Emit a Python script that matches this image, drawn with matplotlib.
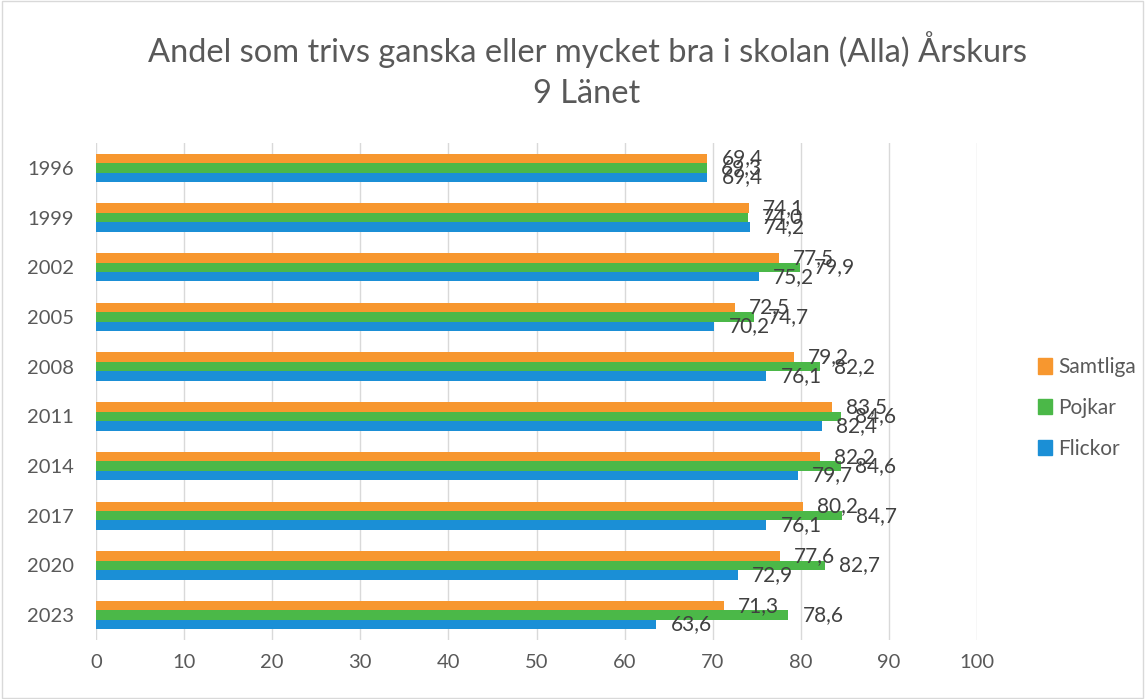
import matplotlib
matplotlib.use("Agg")
import matplotlib.pyplot as plt
import numpy as np
from matplotlib.patches import Patch, Rectangle

plt.rcParams['font.family'] = ['Lato', 'DejaVu Sans']

years = ["1996", "1999", "2002", "2005", "2008", "2011", "2014", "2017", "2020", "2023"]
samtliga = [69.4, 74.1, 77.5, 72.5, 79.2, 83.5, 82.2, 80.2, 77.6, 71.3]
pojkar = [69.3, 74.0, 79.9, 74.7, 82.2, 84.6, 84.6, 84.7, 82.7, 78.6]
flickor = [69.4, 74.2, 75.2, 70.2, 76.1, 82.4, 79.7, 76.1, 72.9, 63.6]
series_names = ["Samtliga", "Pojkar", "Flickor"]
colors = ["#F7972F", "#4BB848", "#1B8FD6"]
xticks = [0, 10, 20, 30, 40, 50, 60, 70, 80, 90, 100]

fig = plt.figure(figsize=(11.45, 6.99), dpi=100)
fig.patches.append(Rectangle((0.002, 0.002), 0.996, 0.996, transform=fig.transFigure,
                             fill=False, edgecolor="#D9D9D9", linewidth=1))
ax = fig.add_axes([96/1145, 1-640/699, (977-96)/1145, (640-143)/699])

y = np.arange(len(years))
bh = 0.19
offsets = [-bh, 0, bh]
for vals, off, c, name in zip([samtliga, pojkar, flickor], offsets, colors, series_names):
    ax.barh(y + off, vals, height=bh, color=c, label=name, zorder=3)
    for v, yy in zip(vals, y + off):
        ax.text(v + 1.6, yy, f"{v:.1f}".replace(".", ","), va="center", ha="left",
                fontsize=15, color="#404040", zorder=4)

ax.set_ylim(len(years) - 0.5, -0.5)
ax.set_xlim(0, 100)
ax.set_yticks(y)
ax.set_yticklabels(years)
ax.set_xticks(xticks)
ax.xaxis.grid(True, color="#D9D9D9", linewidth=1, zorder=0)
ax.tick_params(axis="both", length=0, labelsize=14.5, colors="#595959")
ax.tick_params(axis="y", pad=16)
ax.tick_params(axis="x", pad=10)
for s in ax.spines.values():
    s.set_visible(False)

fig.text(587/1145, 1-50/699, "Andel som trivs ganska eller mycket bra i skolan (Alla) Årskurs",
         ha="center", va="center", fontsize=23.5, color="#595959")
fig.text(587/1145, 1-94/699, "9 Länet", ha="center", va="center", fontsize=23.5, color="#595959")

handles = [Patch(color=c) for c in colors]
fig.legend(handles, series_names, loc="center left", bbox_to_anchor=(1028/1145, 1-408/699),
           frameon=False, fontsize=15, labelcolor="#595959", handlelength=0.65, handleheight=0.75,
           handletextpad=0.3, labelspacing=1.0, borderpad=0)

fig.savefig("out.png", dpi=100)
